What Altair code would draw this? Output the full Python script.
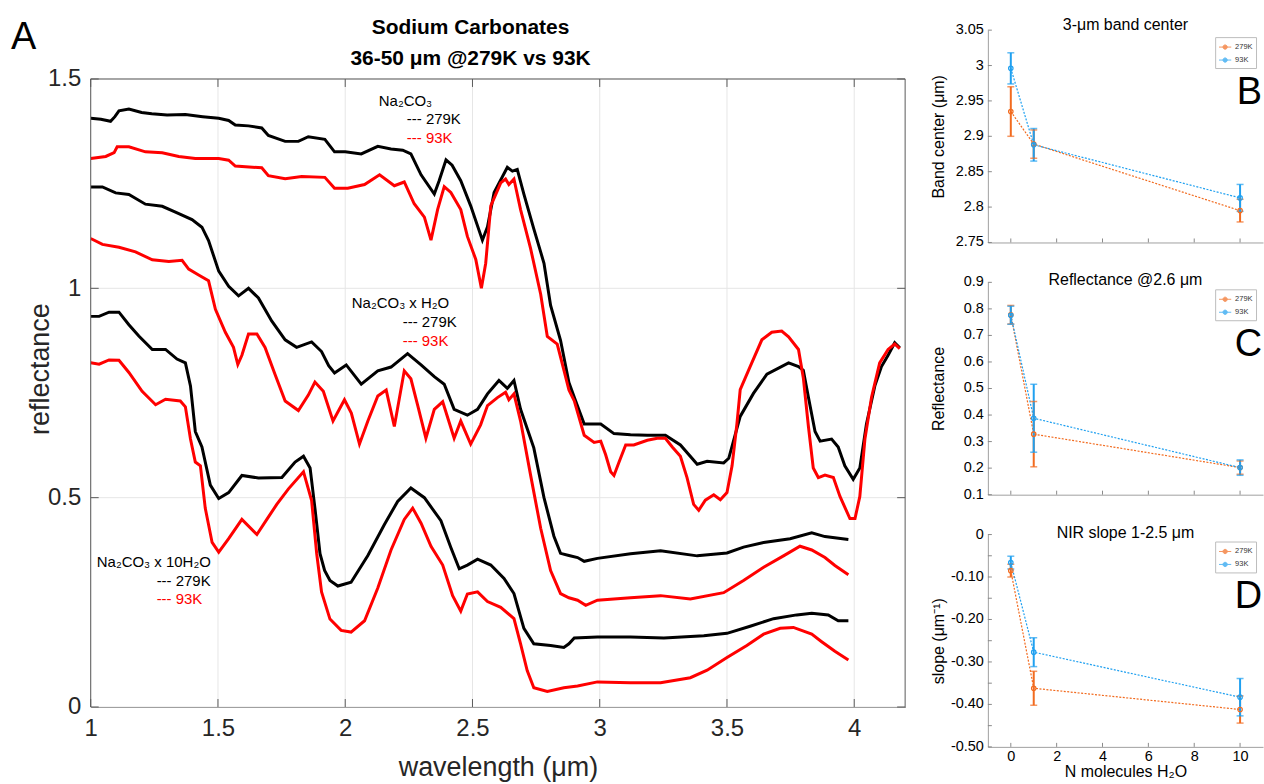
import altair as alt
import pandas as pd

FONT = "Liberation Sans"
AXIS_GREY = "#262626"
BOX_GREY = "#5a5a5a"
ORANGE = "#F26B1F"
BLUE = "#1FA0F0"

# ---------------- Panel A: reflectance spectra (wavelength um, reflectance) ----------------
na2co3_279 = [
    (1.000, 1.406), (1.040, 1.404), (1.078, 1.399), (1.095, 1.410), (1.111, 1.424), (1.150, 1.428),
    (1.200, 1.420), (1.240, 1.417), (1.300, 1.414), (1.372, 1.415), (1.440, 1.410), (1.503, 1.406),
    (1.542, 1.401), (1.568, 1.390), (1.620, 1.388), (1.672, 1.383), (1.698, 1.365), (1.764, 1.351),
    (1.816, 1.351), (1.855, 1.362), (1.920, 1.356), (1.958, 1.326), (2.000, 1.326), (2.063, 1.321),
    (2.128, 1.339), (2.180, 1.333), (2.226, 1.330), (2.258, 1.321), (2.298, 1.271), (2.350, 1.225),
    (2.369, 1.257), (2.396, 1.307), (2.420, 1.294), (2.454, 1.257), (2.493, 1.197), (2.539, 1.115),
    (2.559, 1.147), (2.585, 1.229), (2.637, 1.289), (2.657, 1.280), (2.676, 1.284), (2.702, 1.225),
    (2.741, 1.142), (2.781, 1.060), (2.807, 0.959), (2.846, 0.876), (2.879, 0.775), (2.900, 0.740),
    (2.939, 0.676), (3.004, 0.676), (3.056, 0.653), (3.121, 0.650), (3.187, 0.649), (3.258, 0.649),
    (3.317, 0.626), (3.383, 0.580), (3.422, 0.587), (3.487, 0.583), (3.507, 0.594), (3.552, 0.694),
    (3.604, 0.749), (3.657, 0.795), (3.742, 0.822), (3.781, 0.813), (3.800, 0.804), (3.820, 0.740),
    (3.846, 0.658), (3.866, 0.635), (3.911, 0.640), (3.937, 0.621), (3.963, 0.576), (3.996, 0.544),
    (4.022, 0.571), (4.048, 0.676), (4.081, 0.767), (4.107, 0.813), (4.133, 0.840), (4.159, 0.870),
    (4.179, 0.858),
]
na2co3_93 = [
    (1.000, 1.310), (1.059, 1.315), (1.092, 1.324), (1.104, 1.338), (1.150, 1.338), (1.215, 1.326),
    (1.281, 1.324), (1.346, 1.315), (1.411, 1.310), (1.503, 1.310), (1.542, 1.306), (1.568, 1.292),
    (1.672, 1.288), (1.698, 1.269), (1.764, 1.262), (1.829, 1.267), (1.920, 1.265), (1.958, 1.239),
    (2.010, 1.239), (2.076, 1.248), (2.135, 1.271), (2.193, 1.245), (2.232, 1.254), (2.271, 1.202),
    (2.311, 1.170), (2.337, 1.115), (2.363, 1.188), (2.389, 1.243), (2.415, 1.229), (2.454, 1.188),
    (2.480, 1.124), (2.513, 1.069), (2.535, 1.000), (2.552, 1.060), (2.572, 1.197), (2.611, 1.252),
    (2.630, 1.261), (2.643, 1.248), (2.663, 1.261), (2.689, 1.188), (2.728, 1.096), (2.768, 0.986),
    (2.794, 0.885), (2.833, 0.867), (2.860, 0.803), (2.879, 0.757), (2.900, 0.731), (2.939, 0.649),
    (2.978, 0.632), (3.004, 0.635), (3.023, 0.603), (3.043, 0.562), (3.056, 0.553), (3.076, 0.585),
    (3.102, 0.626), (3.134, 0.626), (3.187, 0.637), (3.226, 0.642), (3.258, 0.642), (3.285, 0.621),
    (3.317, 0.599), (3.343, 0.548), (3.369, 0.484), (3.389, 0.470), (3.415, 0.494), (3.448, 0.507),
    (3.474, 0.495), (3.500, 0.512), (3.520, 0.576), (3.539, 0.676), (3.552, 0.758), (3.591, 0.813),
    (3.637, 0.877), (3.676, 0.895), (3.715, 0.898), (3.742, 0.884), (3.781, 0.854), (3.800, 0.786),
    (3.820, 0.670), (3.839, 0.571), (3.859, 0.548), (3.885, 0.554), (3.918, 0.548), (3.944, 0.503),
    (3.983, 0.450), (4.003, 0.450), (4.022, 0.503), (4.042, 0.640), (4.068, 0.740), (4.100, 0.822),
    (4.133, 0.854), (4.159, 0.867), (4.179, 0.856),
]
mono_279 = [
    (1.000, 1.242), (1.046, 1.242), (1.098, 1.228), (1.150, 1.224), (1.215, 1.201), (1.281, 1.196),
    (1.333, 1.182), (1.398, 1.164), (1.437, 1.146), (1.463, 1.114), (1.503, 1.041), (1.542, 1.005),
    (1.581, 0.982), (1.620, 1.000), (1.659, 0.977), (1.711, 0.922), (1.764, 0.877), (1.809, 0.859),
    (1.868, 0.872), (1.907, 0.849), (1.935, 0.815), (1.958, 0.798), (2.004, 0.817), (2.063, 0.771),
    (2.128, 0.803), (2.180, 0.812), (2.245, 0.844), (2.298, 0.817), (2.350, 0.789), (2.389, 0.771),
    (2.428, 0.711), (2.480, 0.697), (2.520, 0.711), (2.559, 0.748), (2.604, 0.780), (2.637, 0.761),
    (2.663, 0.780), (2.689, 0.711), (2.741, 0.619), (2.781, 0.500), (2.820, 0.408), (2.846, 0.367),
    (2.879, 0.362), (2.913, 0.357), (2.939, 0.348), (2.991, 0.355), (3.121, 0.366), (3.239, 0.373),
    (3.383, 0.361), (3.500, 0.368), (3.565, 0.382), (3.644, 0.393), (3.748, 0.402), (3.833, 0.416),
    (3.885, 0.407), (3.977, 0.400),
]
mono_93 = [
    (1.000, 1.119), (1.046, 1.105), (1.111, 1.098), (1.176, 1.087), (1.242, 1.068), (1.307, 1.064),
    (1.359, 1.067), (1.385, 1.046), (1.424, 1.032), (1.463, 1.018), (1.490, 0.950), (1.529, 0.895),
    (1.561, 0.859), (1.578, 0.818), (1.594, 0.840), (1.620, 0.891), (1.653, 0.891), (1.685, 0.859),
    (1.724, 0.795), (1.764, 0.731), (1.816, 0.708), (1.855, 0.745), (1.881, 0.776), (1.914, 0.754),
    (1.952, 0.683), (1.997, 0.734), (2.024, 0.702), (2.056, 0.628), (2.089, 0.683), (2.128, 0.743),
    (2.161, 0.757), (2.193, 0.670), (2.232, 0.803), (2.258, 0.784), (2.285, 0.720), (2.317, 0.642),
    (2.350, 0.711), (2.383, 0.729), (2.428, 0.642), (2.454, 0.683), (2.493, 0.628), (2.532, 0.674),
    (2.559, 0.720), (2.598, 0.739), (2.630, 0.752), (2.643, 0.734), (2.663, 0.748), (2.689, 0.683),
    (2.728, 0.555), (2.768, 0.427), (2.807, 0.326), (2.846, 0.271), (2.879, 0.261), (2.913, 0.255),
    (2.945, 0.243), (2.991, 0.255), (3.121, 0.261), (3.239, 0.266), (3.356, 0.258), (3.487, 0.273),
    (3.565, 0.302), (3.644, 0.334), (3.722, 0.361), (3.787, 0.384), (3.833, 0.375), (3.885, 0.357),
    (3.924, 0.338), (3.977, 0.316),
]
deca_279 = [
    (1.000, 0.933), (1.033, 0.933), (1.072, 0.943), (1.111, 0.943), (1.150, 0.913), (1.189, 0.886),
    (1.242, 0.854), (1.294, 0.854), (1.339, 0.831), (1.372, 0.822), (1.392, 0.767), (1.411, 0.658),
    (1.437, 0.621), (1.470, 0.530), (1.503, 0.498), (1.542, 0.512), (1.594, 0.553), (1.659, 0.547),
    (1.751, 0.548), (1.803, 0.585), (1.836, 0.599), (1.862, 0.571), (1.881, 0.475), (1.901, 0.366),
    (1.919, 0.326), (1.940, 0.302), (1.971, 0.289), (2.023, 0.298), (2.089, 0.362), (2.154, 0.436),
    (2.206, 0.491), (2.258, 0.523), (2.311, 0.500), (2.376, 0.445), (2.415, 0.381), (2.448, 0.330),
    (2.480, 0.339), (2.520, 0.353), (2.572, 0.339), (2.624, 0.307), (2.663, 0.271), (2.702, 0.188),
    (2.741, 0.151), (2.807, 0.147), (2.859, 0.142), (2.879, 0.151), (2.900, 0.165), (2.991, 0.167),
    (3.121, 0.167), (3.252, 0.165), (3.409, 0.170), (3.500, 0.176), (3.591, 0.193), (3.683, 0.211),
    (3.774, 0.220), (3.833, 0.224), (3.898, 0.220), (3.937, 0.206), (3.977, 0.206),
]
deca_93 = [
    (1.000, 0.822), (1.033, 0.819), (1.072, 0.829), (1.111, 0.828), (1.150, 0.799), (1.202, 0.754),
    (1.255, 0.722), (1.294, 0.735), (1.352, 0.731), (1.372, 0.717), (1.392, 0.640), (1.411, 0.585),
    (1.431, 0.576), (1.450, 0.475), (1.477, 0.393), (1.503, 0.370), (1.542, 0.402), (1.594, 0.448),
    (1.653, 0.412), (1.692, 0.448), (1.731, 0.484), (1.777, 0.521), (1.836, 0.562), (1.868, 0.493),
    (1.888, 0.366), (1.907, 0.275), (1.940, 0.210), (1.984, 0.183), (2.023, 0.179), (2.076, 0.206),
    (2.128, 0.284), (2.180, 0.375), (2.232, 0.448), (2.265, 0.475), (2.298, 0.439), (2.337, 0.384),
    (2.383, 0.339), (2.422, 0.266), (2.454, 0.229), (2.480, 0.270), (2.520, 0.275), (2.559, 0.252),
    (2.611, 0.238), (2.663, 0.211), (2.689, 0.151), (2.715, 0.087), (2.741, 0.046), (2.794, 0.037),
    (2.859, 0.046), (2.913, 0.050), (2.991, 0.060), (3.121, 0.058), (3.239, 0.058), (3.356, 0.070),
    (3.422, 0.088), (3.500, 0.118), (3.578, 0.147), (3.644, 0.174), (3.709, 0.188), (3.761, 0.190),
    (3.833, 0.174), (3.872, 0.156), (3.924, 0.133), (3.977, 0.112),
]

spectra = [
    ("Na2CO3", "279K", na2co3_279), ("Na2CO3", "93K", na2co3_93),
    ("Na2CO3 x H2O", "279K", mono_279), ("Na2CO3 x H2O", "93K", mono_93),
    ("Na2CO3 x 10H2O", "279K", deca_279), ("Na2CO3 x 10H2O", "93K", deca_93),
]
rows = []
for name, temp, pts in spectra:
    for i, (w, r) in enumerate(pts):
        rows.append({"series": f"{name} {temp}", "temp": temp, "wl": w, "refl": r, "i": i})
spec_df = pd.DataFrame(rows)

# in-plot legend text for the three compounds
note_text = ["Na₂CO₃", "--- 279K", "--- 93K",
             "Na₂CO₃ x H₂O", "--- 279K", "--- 93K",
             "Na₂CO₃ x 10H₂O", "--- 279K", "--- 93K"]
note_wl = [2.132, 2.242, 2.242, 2.026, 2.226, 2.226, 1.024, 1.259, 1.259]
note_refl = [1.448, 1.404, 1.360, 0.964, 0.919, 0.875, 0.346, 0.301, 0.257]
note_color = ["black", "black", "red", "black", "black", "red", "black", "black", "red"]
notes_df = pd.DataFrame({"wl": note_wl, "refl": note_refl, "txt": note_text, "col": note_color})

wl_ticks = [1, 1.5, 2, 2.5, 3, 3.5, 4]
refl_ticks = [0, 0.5, 1, 1.5]
WL_MIN, WL_MAX = 1.0, 4.2
RF_MIN, RF_MAX = 0.0, 1.5
title_lines = ["Sodium Carbonates", "36-50 μm @279K vs 93K"]

# The plot frame spans 0-1.5; the drawing area reaches a little higher so that the
# right-hand panels can start above the frame.
W_A, H_FRAME, H_A = 817, 630, 679
TOP = H_A - H_FRAME
xs = alt.Scale(domain=[WL_MIN, WL_MAX], nice=False, zero=False)
ys = alt.Scale(domain=[RF_MIN, RF_MAX * H_A / H_FRAME], nice=False, zero=False)

x_axis = alt.Axis(values=wl_ticks, format="~g", labelFontSize=24, labelColor=AXIS_GREY,
                  titleFontSize=27, titleFontWeight="normal", titleColor=AXIS_GREY,
                  ticks=False, grid=False, domainColor=BOX_GREY,
                  labelPadding=10, titlePadding=14, labelFlush=False)
y_axis = alt.Axis(values=refl_ticks, format="~g", labelFontSize=24, labelColor=AXIS_GREY,
                  titleFontSize=27, titleFontWeight="normal", titleColor=AXIS_GREY,
                  ticks=False, grid=False, domain=False,
                  labelPadding=10, titlePadding=0, maxExtent=36, labelFlush=False)

spectra_lines = alt.Chart(spec_df).mark_line(strokeWidth=3, clip=True).encode(
    x=alt.X("wl:Q", scale=xs, axis=x_axis, title="wavelength (μm)"),
    y=alt.Y("refl:Q", scale=ys, axis=y_axis, title="reflectance"),
    color=alt.Color("temp:N", scale=alt.Scale(domain=["279K", "93K"], range=["#000000", "#ff0000"]),
                    legend=None),
    detail="series:N",
    order=alt.Order("i:Q"),
)

notes = alt.Chart(notes_df).mark_text(align="left", baseline="middle", fontSize=15, font=FONT).encode(
    x=alt.X("wl:Q", scale=xs), y=alt.Y("refl:Q", scale=ys),
    text="txt:N", color=alt.Color("col:N", scale=None),
)

# grid, frame and inward tick marks
vgrid_df = pd.DataFrame({"v": wl_ticks, "lo": RF_MIN, "hi": RF_MAX})
hgrid_df = pd.DataFrame({"v": refl_ticks, "lo": WL_MIN, "hi": WL_MAX})
frame_df = pd.DataFrame({"x": [WL_MIN, WL_MAX, WL_MIN], "x2": [WL_MIN, WL_MAX, WL_MAX],
                         "y": [RF_MIN, RF_MIN, RF_MAX], "y2": [RF_MAX, RF_MAX, RF_MAX]})
grid_v = alt.Chart(vgrid_df).mark_rule(color="#e6e6e6").encode(
    x=alt.X("v:Q", scale=xs), y=alt.Y("lo:Q", scale=ys), y2="hi:Q")
grid_h = alt.Chart(hgrid_df).mark_rule(color="#e6e6e6").encode(
    y=alt.Y("v:Q", scale=ys), x=alt.X("lo:Q", scale=xs), x2="hi:Q")
frame = alt.Chart(frame_df).mark_rule(color=BOX_GREY, strokeWidth=1).encode(
    x=alt.X("x:Q", scale=xs), x2="x2:Q", y=alt.Y("y:Q", scale=ys), y2="y2:Q")

ytick_df = pd.DataFrame({"v": refl_ticks})
xtick_df = pd.DataFrame({"v": wl_ticks})
tick_left = alt.Chart(ytick_df).mark_rule(color=BOX_GREY).encode(
    y=alt.Y("v:Q", scale=ys), x=alt.value(0), x2=alt.value(8))
tick_right = alt.Chart(ytick_df).mark_rule(color=BOX_GREY).encode(
    y=alt.Y("v:Q", scale=ys), x=alt.value(W_A - 8), x2=alt.value(W_A))
tick_bottom = alt.Chart(xtick_df).mark_rule(color=BOX_GREY).encode(
    x=alt.X("v:Q", scale=xs), y=alt.value(H_A - 8), y2=alt.value(H_A))
tick_top = alt.Chart(xtick_df).mark_rule(color=BOX_GREY).encode(
    x=alt.X("v:Q", scale=xs), y=alt.value(TOP), y2=alt.value(TOP + 8))


def heading(text, y):
    return alt.Chart(pd.DataFrame({"t": [text]})).mark_text(
        align="center", baseline="middle", fontSize=21, fontWeight="bold", font=FONT, color="black"
    ).encode(text="t:N", x=alt.value(381), y=alt.value(y))


title_1 = heading(title_lines[0], TOP - 51)
title_2 = heading(title_lines[1], TOP - 20)

letter_a = alt.Chart(pd.DataFrame({"t": ["A"]})).mark_text(
    align="left", baseline="alphabetic", fontSize=38, font=FONT, color="black"
).encode(text="t:N", x=alt.value(-80), y=alt.value(TOP - 30))

panel_a = alt.layer(
    grid_v, grid_h, spectra_lines, tick_left, tick_right, tick_bottom, tick_top, notes, frame,
    letter_a, title_1, title_2,
).properties(
    width=W_A, height=H_A,
    view=alt.ViewBackground(stroke="transparent"),
)

# ---------------- Panels B-D: band parameters vs hydration ----------------
n_water = [0, 1, 10]
band_279 = [2.935, 2.889, 2.795]
band_279_err = [0.035, 0.020, 0.016]
band_93 = [2.996, 2.888, 2.813]
band_93_err = [0.022, 0.023, 0.019]
refl26_279 = [0.778, 0.328, 0.202]
refl26_279_err = [0.035, 0.123, 0.025]
refl26_93 = [0.776, 0.388, 0.202]
refl26_93_err = [0.034, 0.128, 0.029]
slope_279 = [-0.085, -0.362, -0.412]
slope_279_err = [0.015, 0.040, 0.032]
slope_93 = [-0.066, -0.277, -0.383]
slope_93_err = [0.015, 0.034, 0.044]
n_ticks = [0, 2, 4, 6, 8, 10]

band_ticks = [2.75, 2.8, 2.85, 2.9, 2.95, 3.0, 3.05]
band_labels = ["2.75", "2.8", "2.85", "2.9", "2.95", "3", "3.05"]
refl26_ticks = [0.1, 0.2, 0.3, 0.4, 0.5, 0.6, 0.7, 0.8, 0.9]
refl26_labels = ["0.1", "0.2", "0.3", "0.4", "0.5", "0.6", "0.7", "0.8", "0.9"]
slope_ticks = [-0.5, -0.4, -0.3, -0.2, -0.1, 0]
slope_labels = ["-0.50", "-0.40", "-0.30", "-0.20", "-0.10", "0"]
slope_minor = [-0.5, -0.45, -0.4, -0.35, -0.3, -0.25, -0.2, -0.15, -0.1, -0.05, 0]

W_P, H_P = 276, 213
LEGEND_SYMBOL = "M-1,0H1M0.35,0A0.35,0.35,0,1,1,-0.35,0A0.35,0.35,0,1,1,0.35,0"


def panel(v279, e279, v93, e93, title, title_y, ytitle, ydomain, yticks, ylabels, letter,
          last, minor):
    df = pd.DataFrame({
        "n": n_water * 2,
        "K": ["279K"] * 3 + ["93K"] * 3,
        "val": v279 + v93,
        "lo": [v - e for v, e in zip(v279, e279)] + [v - e for v, e in zip(v93, e93)],
        "hi": [v + e for v, e in zip(v279, e279)] + [v + e for v, e in zip(v93, e93)],
    })
    sx = alt.Scale(domain=[-1, 11], nice=False, zero=False)
    sy = alt.Scale(domain=ydomain, nice=False, zero=False)
    legend = alt.Legend(title=None, orient="none", legendX=W_P - 48, legendY=7,
                        symbolType=LEGEND_SYMBOL, symbolSize=150, symbolStrokeWidth=1,
                        labelFontSize=7.5, labelFont=FONT, labelColor="#333333",
                        strokeColor="#bdbdbd", fillColor="white", padding=3,
                        rowPadding=1, labelOffset=3)
    col = alt.Color("K:N", scale=alt.Scale(domain=["279K", "93K"], range=[ORANGE, BLUE]),
                    legend=legend)
    if last:
        xaxis = alt.Axis(values=n_ticks, labels=True, ticks=False, grid=False, domainColor="#a0a0a0",
                         labelFontSize=14.5, labelFont=FONT, labelColor="black", labelPadding=3,
                         labelOverlap=False,
                         titleFontSize=16, titleFontWeight="normal", titleFont=FONT,
                         titleColor="black", titlePadding=0)
        x_enc = alt.X("n:Q", scale=sx, axis=xaxis, title="N molecules H₂O")
    else:
        xaxis = alt.Axis(values=n_ticks, labels=False, ticks=False, grid=False, domainColor="#a0a0a0")
        x_enc = alt.X("n:Q", scale=sx, axis=xaxis, title=None)
    # tick labels of the value axis are drawn as a text layer below
    yaxis = alt.Axis(values=yticks, labels=False, ticks=False, grid=False,
                     domainColor="#a0a0a0", minExtent=37, maxExtent=37,
                     titleFontSize=16, titleFontWeight="normal", titleFont=FONT,
                     titleColor="black", titlePadding=5)
    y_enc = alt.Y("val:Q", scale=sy, axis=yaxis, title=ytitle)

    base = alt.Chart(df)
    line = base.mark_line(strokeWidth=1.2, strokeDash=[2, 1.5]).encode(x=x_enc, y=y_enc, color=col)
    bars = base.mark_rule(strokeWidth=2).encode(
        x=alt.X("n:Q", scale=sx), y=alt.Y("lo:Q", scale=sy), y2="hi:Q", color=col)
    cap_lo = base.mark_tick(orient="horizontal", size=7, thickness=1.5).encode(
        x=alt.X("n:Q", scale=sx), y=alt.Y("lo:Q", scale=sy), color=col)
    cap_hi = base.mark_tick(orient="horizontal", size=7, thickness=1.5).encode(
        x=alt.X("n:Q", scale=sx), y=alt.Y("hi:Q", scale=sy), color=col)
    dots = base.mark_point(shape="circle", filled=False, size=20, strokeWidth=1.2, opacity=1).encode(
        x=alt.X("n:Q", scale=sx), y=alt.Y("val:Q", scale=sy), color=col)

    ylab = alt.Chart(pd.DataFrame({"v": yticks, "lab": ylabels})).mark_text(
        align="right", baseline="middle", fontSize=14.5, font=FONT, color="black"
    ).encode(y=alt.Y("v:Q", scale=sy), x=alt.value(-4), text="lab:N")
    xt = alt.Chart(pd.DataFrame({"v": n_ticks})).mark_rule(color="#8a8a8a").encode(
        x=alt.X("v:Q", scale=sx), y=alt.value(H_P - 4), y2=alt.value(H_P))
    yt = alt.Chart(pd.DataFrame({"v": minor})).mark_rule(color="#8a8a8a").encode(
        y=alt.Y("v:Q", scale=sy), x=alt.value(0), x2=alt.value(4))
    tag = alt.Chart(pd.DataFrame({"t": [letter]})).mark_text(
        align="right", baseline="alphabetic", fontSize=38, font=FONT, color="black"
    ).encode(text="t:N", x=alt.value(W_P - 1), y=alt.value(74))
    head = alt.Chart(pd.DataFrame({"t": [title]})).mark_text(
        align="center", baseline="alphabetic", fontSize=16, font=FONT, color="black"
    ).encode(text="t:N", x=alt.value(W_P / 2), y=alt.value(title_y))

    return alt.layer(line, xt, yt, ylab, bars, cap_lo, cap_hi, dots, tag, head).properties(
        width=W_P, height=H_P,
        view=alt.ViewBackground(stroke="transparent"),
    )


panel_b = panel(band_279, band_279_err, band_93, band_93_err, "3-μm band center", 0,
                "Band center (μm)", [2.75, 3.05], band_ticks, band_labels, "B", False, band_ticks)
panel_c = panel(refl26_279, refl26_279_err, refl26_93, refl26_93_err, "Reflectance @2.6 μm", 3,
                "Reflectance", [0.1, 0.9], refl26_ticks, refl26_labels, "C", False, refl26_ticks)
panel_d = panel(slope_279, slope_279_err, slope_93, slope_93_err, "NIR slope 1-2.5 μm", 3,
                "slope (μm⁻¹)", [-0.5, 0], slope_ticks, slope_labels, "D", True, slope_minor)

right_col = alt.vconcat(panel_b, panel_c, panel_d, spacing=22).resolve_scale(
    color="independent").resolve_legend(color="independent")

chart = alt.hconcat(panel_a, right_col, spacing=23).resolve_scale(
    color="independent"
).properties(
    padding={"left": 10, "top": 15, "right": 0, "bottom": 0},
    background="white",
).configure(font=FONT).configure_axis(labelOverlap=False)

chart.save("out.html", embed_options={"renderer": "svg", "actions": False})
